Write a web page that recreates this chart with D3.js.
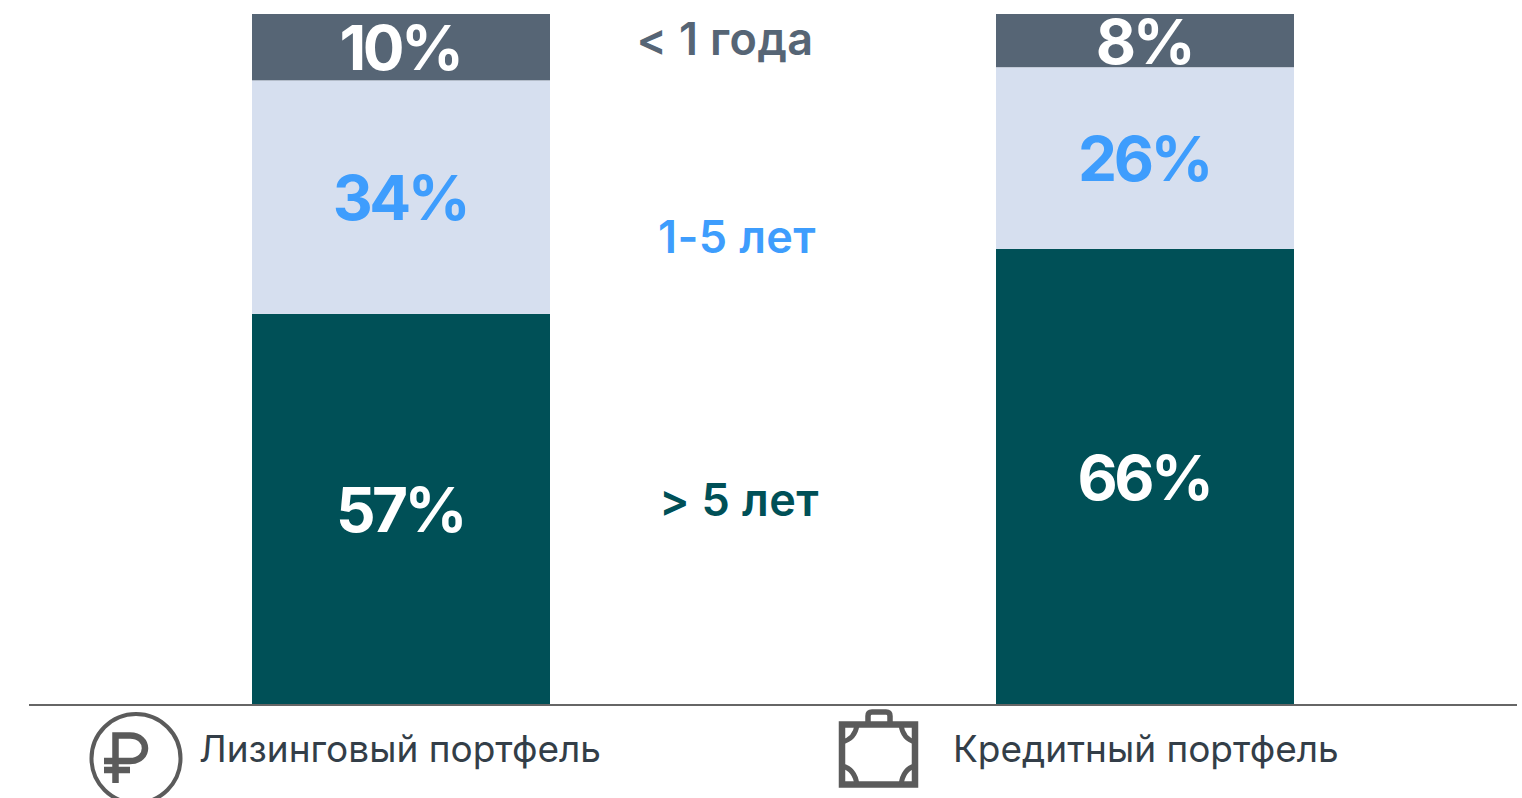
<!DOCTYPE html>
<html>
<head>
<meta charset="utf-8">
<script src="https://d3js.org/d3.v7.min.js"></script>
<style>
	body { margin: 0; background: #fff; font-family: Inter, sans-serif; }
	svg { display: block; }
</style>
</head>
<body>
<script>
// values, labels round them
var portfolios = ["Лизинговый портфель", "Кредитный портфель"];
var groups = ["> 5 лет", "1-5 лет", "< 1 года"];
var longTerm = [56.6, 66];
var midTerm = [33.8, 26.3];
var shortTerm = [9.6, 7.7];

var fills = ["#005057", "#d6dfef", "#566575"];
var labelFills = ["#fff", "#3e9dfd", "#fff"];
var groupFills = ["#005057", "#3e9dfd", "#566575"];
var groupX = [739, 737, 725];
var groupY = [516, 253, 55];

var w = 1522, h = 798;
var svg = d3.select("body").append("svg").attr("width", w).attr("height", h);

var x = d3.scaleBand().domain(portfolios).range([252, 1294]).paddingInner(446 / 744).paddingOuter(0);
var y = d3.scaleLinear().domain([0, 100]).range([705, 14]);

var rows = portfolios.map(function(p, i) {
	return { name: p, 0: longTerm[i], 1: midTerm[i], 2: shortTerm[i] };
});
var stacked = d3.stack().keys([0, 1, 2])(rows);

var layer = svg.selectAll("g.layer").data(stacked).enter().append("g").attr("class", "layer");

layer.selectAll("rect")
	.data(function(d) { return d; })
	.enter().append("rect")
	.attr("x", function(d) { return x(d.data.name); })
	.attr("width", x.bandwidth())
	.attr("y", function(d) { return y(d[1]); })
	.attr("height", function(d) { return y(d[0]) - y(d[1]); })
	.attr("fill", function() { return fills[d3.select(this.parentNode).datum().key]; });

layer.selectAll("text")
	.data(function(d) { return d; })
	.enter().append("text")
	.attr("x", function(d) { return x(d.data.name) + x.bandwidth() / 2 - 1; })
	.attr("y", function(d) { return (y(d[0]) + y(d[1])) / 2; })
	.attr("dy", "0.37em")
	.attr("text-anchor", "middle")
	.attr("font-family", "Inter, sans-serif")
	.attr("font-weight", 700)
	.attr("font-size", 62)
	.attr("letter-spacing", -3.5)
	.attr("fill", function() { return labelFills[d3.select(this.parentNode).datum().key]; })
	.text(function(d) { return Math.round(d[1] - d[0]) + "%"; });

// group names between the two bars
svg.selectAll("text.group").data(groups).enter().append("text")
	.attr("class", "group")
	.attr("x", function(d, i) { return groupX[i]; })
	.attr("y", function(d, i) { return groupY[i]; })
	.attr("text-anchor", "middle")
	.attr("font-weight", 600)
	.attr("font-size", 45)
	.attr("letter-spacing", 0.4)
	.attr("fill", function(d, i) { return groupFills[i]; })
	.text(function(d) { return d; });

// baseline
svg.append("line").attr("x1", 29).attr("x2", 1517).attr("y1", 705).attr("y2", 705)
	.attr("stroke", "#666").attr("stroke-width", 2);

// portfolio names
svg.selectAll("text.name").data(portfolios).enter().append("text")
	.attr("class", "name")
	.attr("x", function(d, i) { return i == 0 ? 199 : 953; })
	.attr("y", 762)
	.attr("font-size", 37)
	.attr("font-weight", 400)
	.attr("fill", "#333e48")
	.text(function(d) { return d; });

// rouble icon
var rub = svg.append("g").attr("fill", "none").attr("stroke", "#5b5b5b");
rub.append("ellipse").attr("cx", 136).attr("cy", 758.5).attr("rx", 44.5).attr("ry", 44.5).attr("stroke-width", 4);
rub.append("path").attr("stroke-width", 6.5)
	.attr("d", "M115.5 783V735.5H130C150 735.5 150 761 130 761H104M104 770H130");

// briefcase icon
var bag = svg.append("g").attr("fill", "none").attr("stroke", "#5b5b5b").attr("stroke-width", 6.5);
bag.append("rect").attr("x", 842).attr("y", 724.5).attr("width", 73).attr("height", 60);
bag.append("path").attr("stroke-width", 5.5)
	.attr("d", "M868 724V716Q868 712 872 712H886Q890 712 890 716V724");
bag.append("path").attr("stroke-width", 5)
	.attr("d", "M857 725Q855 739 842 742M901 725Q903 739 915 742M842 766Q855 769 857 785M915 766Q903 769 901 785");
</script>
</body>
</html>
